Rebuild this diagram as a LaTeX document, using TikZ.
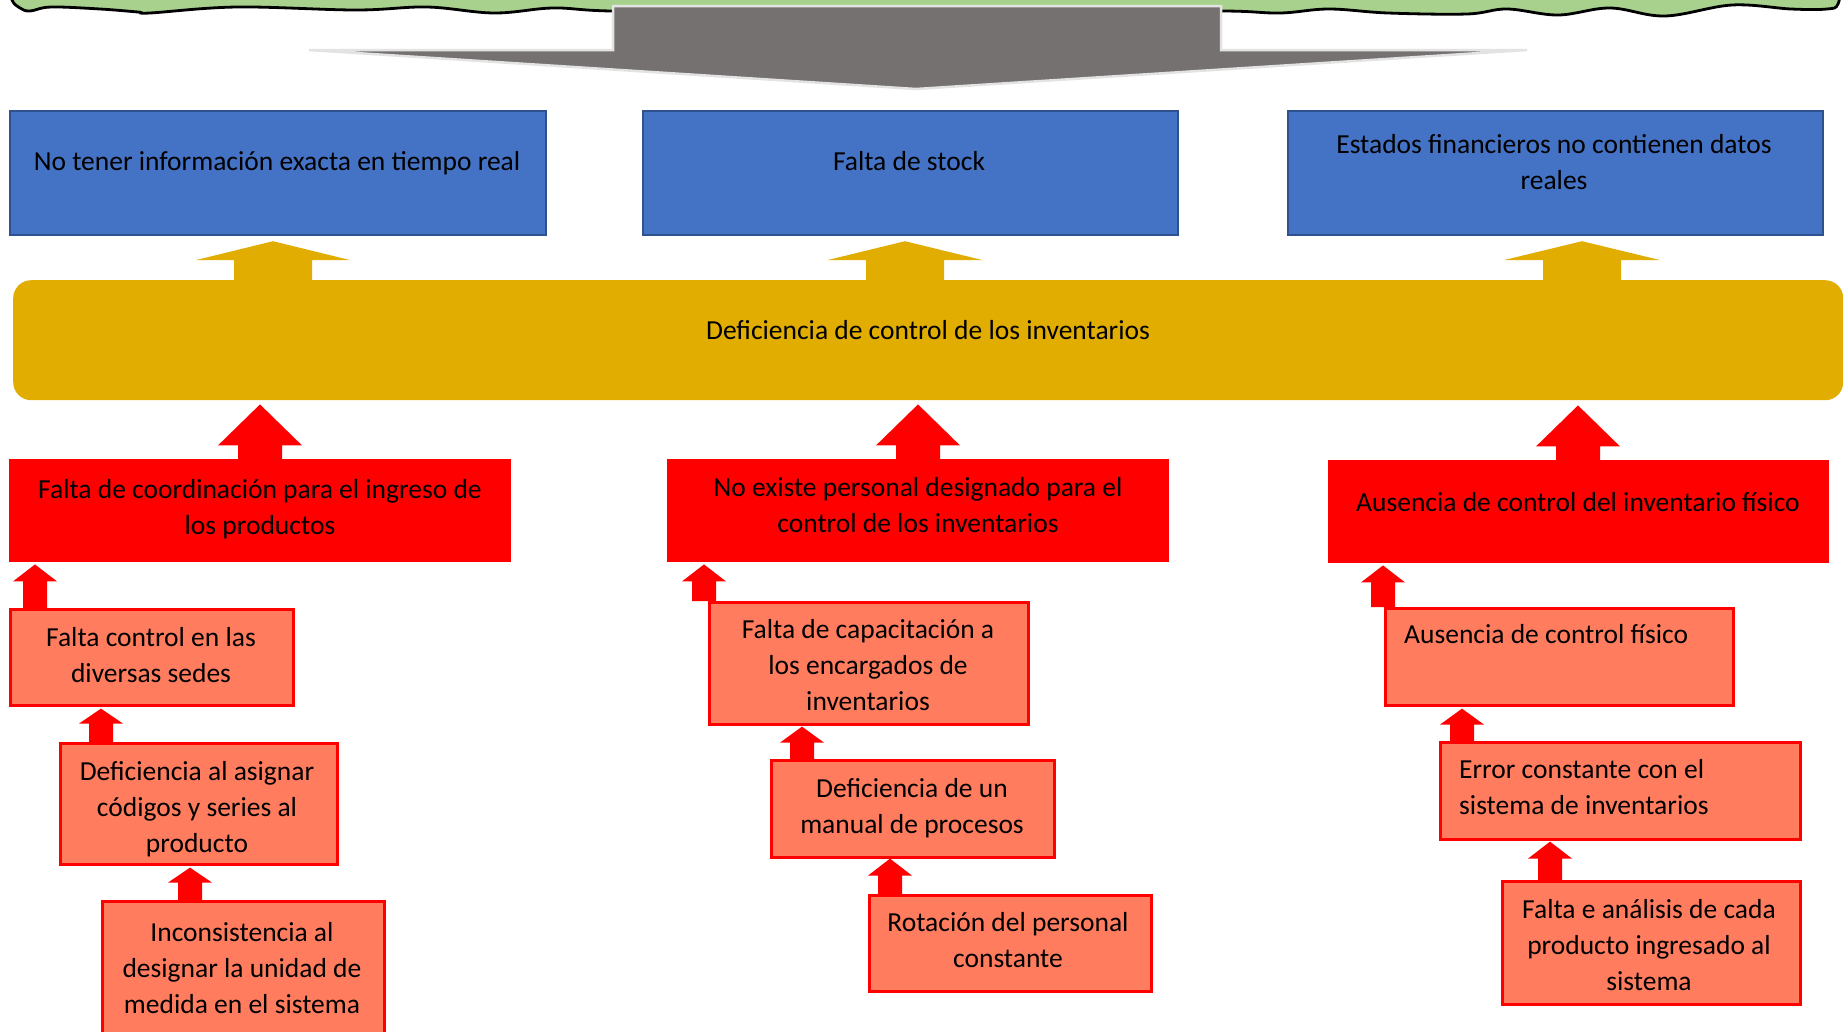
\documentclass[tikz,border=0pt]{standalone}
\usepackage{fontspec}
\setmainfont{Carlito}
\usetikzlibrary{calc}

\definecolor{leaf}{HTML}{A9D18E}
\definecolor{slate}{HTML}{767171}
\definecolor{slateedge}{HTML}{E4E3E3}
\definecolor{boxblue}{HTML}{4472C4}
\definecolor{boxblueline}{HTML}{2F528F}
\definecolor{gold}{HTML}{E1AD01}
\definecolor{alarm}{HTML}{FF0000}
\definecolor{salmon}{HTML}{FF7C5E}

% Block arrow pointing up from the top edge of one node towards the bottom edge of another.
% #1 style, #2 x position, #3 lower node, #4 upper node,
% #5 shaft half width, #6 head half width, #7 head height, #8 gap left under the upper node
\newcommand{\blockup}[8]{%
  \fill[#1] let \p1=(#3.north), \p2=(#4.south) in
    ({#2pt-#5pt},\y1) -- ({#2pt-#5pt},{\y2-#8pt-#7pt}) -- ({#2pt-#6pt},{\y2-#8pt-#7pt})
    -- (#2pt,{\y2-#8pt}) -- ({#2pt+#6pt},{\y2-#8pt-#7pt}) -- ({#2pt+#5pt},{\y2-#8pt-#7pt})
    -- ({#2pt+#5pt},\y1) -- cycle;}

\begin{document}
\begin{tikzpicture}[x=1pt,y=-1pt,
  bluebox/.style={rectangle, fill=boxblue, draw=boxblueline, line width=2.2, inner sep=0, anchor=north west},
  goldbar/.style={rectangle, rounded corners=18, fill=gold, inner sep=0, anchor=north west},
  redbox/.style={rectangle, fill=alarm, inner sep=0, anchor=north west},
  causebox/.style={rectangle, fill=salmon, draw=alarm, line width=2.6, inner sep=0, anchor=north west},
  lbl/.style={font=\fontsize{27.5}{36}\selectfont, align=center, inner sep=0, text=black},
  goldarrow/.style={fill=gold},
  redarrow/.style={fill=alarm}]
\useasboundingbox (0,0) rectangle (1847,1031);

% green banner along the top edge, only its wavy lower border shows
\def\bannerline{(8,-20) (12,0) (20,8) (30,11) (51,7) (100,9) (138,12) (150,13) (237,7) (356,10) (427,7) (494,13) (553,8) (611,11) (760,12) (920,12) (1080,12) (1223,11) (1280,13) (1329,9) (1388,13) (1467,14) (1507,9) (1558,15) (1610,8) (1665,16) (1732,5) (1791,9) (1827,9) (1838,4) (1842,-20)}
\fill[leaf] plot[smooth, tension=0.6] coordinates \bannerline -- (1842,-40) -- (8,-40) -- cycle;
\draw[black, line width=2.8, line cap=round] plot[smooth, tension=0.6] coordinates \bannerline;

% large grey arrow pointing down to the effects
\filldraw[fill=slate, draw=slateedge, line width=2.5, line join=miter]
  (613,6) -- (1221,6) -- (1221,50) -- (1527,50) -- (916,89) -- (309,50) -- (613,50) -- cycle;

% effects
\node[bluebox, minimum width=536, minimum height=124] (b1) at (9,110) {};
\node[bluebox, minimum width=535, minimum height=124] (b2) at (642,110) {};
\node[bluebox, minimum width=535, minimum height=124] (b3) at (1287,110) {};
\node[lbl] (b1t) at (277,163) {No tener información exacta en tiempo real};
\node[lbl] (b2t) at (909,161) {Falta de stock};
\node[lbl] (b3t) at (1554,162) {Estados financieros no contienen datos\\reales};

% central problem
\node[goldbar, minimum width=1830, minimum height=120] (core) at (13,280) {};
\node[lbl] (coret) at (928,330) {Deficiencia de control de los inventarios};

% main causes
\node[redbox, minimum width=502, minimum height=103] (r1) at (9,459) {};
\node[redbox, minimum width=502, minimum height=103] (r2) at (667,459) {};
\node[redbox, minimum width=501, minimum height=103] (r3) at (1328,460) {};
\node[lbl] (r1t) at (260,509) {Falta de coordinación para el ingreso de\\los productos};
\node[lbl] (r2t) at (918,505) {No existe personal designado para el\\control de los inventarios};
\node[lbl] (r3t) at (1578,502) {Ausencia de control del inventario físico};

% secondary causes, left column
\node[causebox, minimum width=283, minimum height=96] (s1a) at (9,608) {};
\node[causebox, minimum width=277, minimum height=121] (s1b) at (59,742) {};
\node[causebox, minimum width=282, minimum height=170] (s1c) at (101,900) {};
\node[lbl] (s1at) at (151,655) {Falta control en las\\diversas sedes};
\node[lbl] (s1bt) at (197,809) {Deficiencia al asignar\\códigos y series al\\producto};
\node[lbl] (s1ct) at (242,968) {Inconsistencia al\\designar la unidad de\\medida en el sistema};

% secondary causes, middle column
\node[causebox, minimum width=319, minimum height=122] (s2a) at (708,601) {};
\node[causebox, minimum width=283, minimum height=97] (s2b) at (770,759) {};
\node[causebox, minimum width=282, minimum height=96] (s2c) at (868,894) {};
\node[lbl] (s2at) at (868,665) {Falta de capacitación a\\los encargados de\\inventarios};
\node[lbl] (s2bt) at (912,808) {Deficiencia de un\\manual de procesos};
\node[lbl] (s2ct) at (1008,940) {Rotación del personal\\constante};

% secondary causes, right column
\node[causebox, minimum width=348, minimum height=97] (s3a) at (1384,607) {};
\node[causebox, minimum width=360, minimum height=97] (s3b) at (1439,741) {};
\node[causebox, minimum width=298, minimum height=123] (s3c) at (1501,880) {};
\node[lbl, anchor=west] (s3at) at (1404,634) {Ausencia de control físico};
\node[lbl, anchor=west, align=left] (s3bt) at (1459,787) {Error constante con el\\sistema de inventarios};
\node[lbl] (s3ct) at (1649,945) {Falta e análisis de cada\\producto ingresado al\\sistema};

% gold arrows: central problem -> effects
\blockup{goldarrow}{273}{core}{b1}{39}{77.5}{19}{5}
\blockup{goldarrow}{905}{core}{b2}{39}{78}{19}{5}
\blockup{goldarrow}{1582}{core}{b3}{39}{78.5}{19}{5}

% red arrows: main causes -> central problem
\blockup{redarrow}{260}{r1}{core}{22}{42}{41}{4}
\blockup{redarrow}{918}{r2}{core}{22}{42}{41}{4}
\blockup{redarrow}{1578}{r3}{core}{22}{42}{41}{5}

% small red arrows along each chain of causes
\blockup{redarrow}{35}{s1a}{r1}{12}{22}{17}{2}
\blockup{redarrow}{101}{s1b}{s1a}{12}{22}{15}{2}
\blockup{redarrow}{190}{s1c}{s1b}{12}{22}{15}{2}
\blockup{redarrow}{704}{s2a}{r2}{12}{22}{17}{2}
\blockup{redarrow}{802}{s2b}{s2a}{12}{22}{16}{1}
\blockup{redarrow}{890}{s2c}{s2b}{12}{22}{17}{0}
\blockup{redarrow}{1383}{s3a}{r3}{12}{22}{17}{2}
\blockup{redarrow}{1462}{s3b}{s3a}{12}{22}{16}{2}
\blockup{redarrow}{1550}{s3c}{s3b}{12}{22}{17}{1}
\end{tikzpicture}
\end{document}
